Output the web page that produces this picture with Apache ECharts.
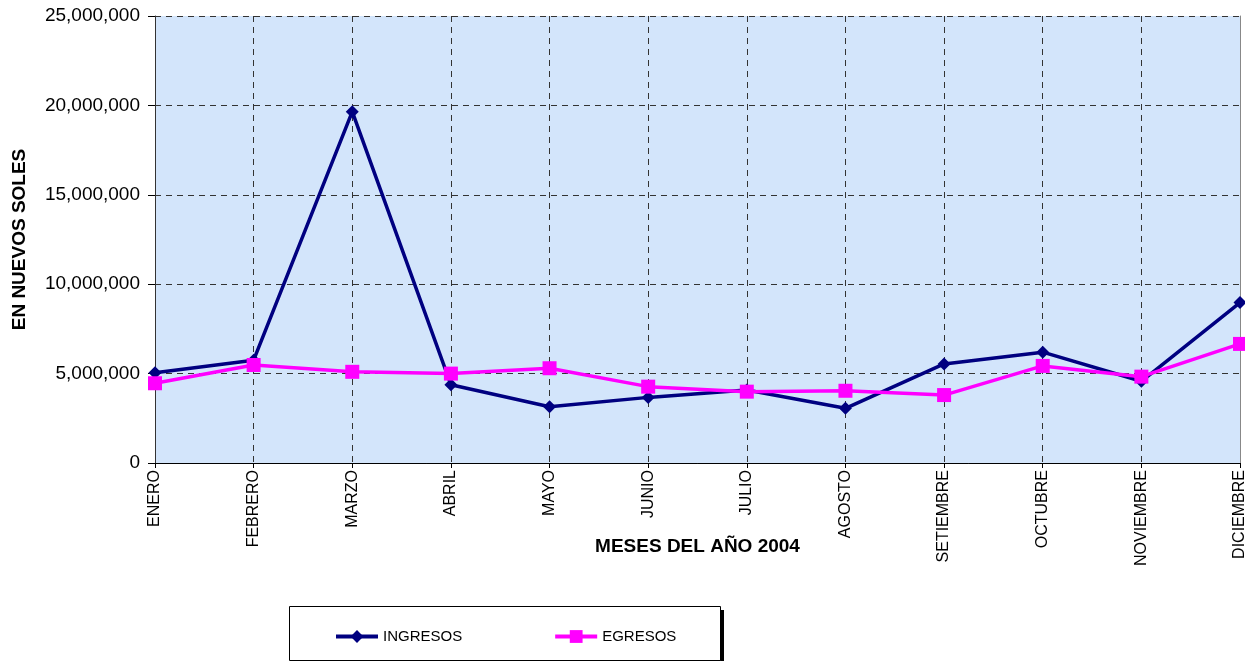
<!DOCTYPE html>
<html>
<head>
<meta charset="utf-8">
<script src="https://cdn.jsdelivr.net/npm/echarts@6/dist/echarts.min.js"></script>
<style>
html,body{margin:0;padding:0;background:#fff;}
#c{width:1245px;height:661px;}
</style>
</head>
<body>
<div id="c"></div>
<script>
var categories = ['ENERO','FEBRERO','MARZO','ABRIL','MAYO','JUNIO','JULIO','AGOSTO','SETIEMBRE','OCTUBRE','NOVIEMBRE','DICIEMBRE'];
var ingresos = [5050000, 5750000, 19650000, 4380000, 3150000, 3670000, 4080000, 3060000, 5540000, 6200000, 4570000, 8970000];
var egresos  = [4460000, 5480000, 5100000, 5000000, 5300000, 4270000, 3990000, 4040000, 3800000, 5430000, 4830000, 6660000];
var yMin = 0, yMax = 25000000, yStep = 5000000;

var FONT = '"Liberation Sans", Arial, sans-serif';
var chart = echarts.init(document.getElementById('c'));
chart.setOption({
  backgroundColor: '#ffffff',
  animation: false,
  grid: {left: 155, right: 5, top: 16, bottom: 198, show: true, backgroundColor: '#D3E5FB', borderWidth: 0,
         containLabel: false, outerBoundsMode: 'none'},
  graphic: [{
    type: 'rect', left: 293, top: 610, z: 0,
    shape: {width: 431, height: 54},
    style: {fill: '#000000'}
  }, {
    type: 'rect', left: 289, top: 606, z: 1,
    shape: {width: 431, height: 54},
    style: {fill: '#ffffff', stroke: '#000000', lineWidth: 1}
  }],
  legend: {
    left: 329, top: 624, itemWidth: 42, itemHeight: 16, itemGap: 91, z: 10,
    textStyle: {fontFamily: FONT, fontSize: 15, color: '#000'},
    lineStyle: {width: 4},
    data: ['INGRESOS', 'EGRESOS']
  },
  xAxis: {
    type: 'category', data: categories, boundaryGap: false,
    name: 'MESES DEL AÑO 2004', nameLocation: 'middle', nameGap: 74, nameMoveOverlap: false,
    nameTextStyle: {fontFamily: FONT, fontWeight: 'bold', fontSize: 19, color: '#000'},
    axisLine: {show: true, lineStyle: {color: '#000', width: 1}},
    axisTick: {show: true, length: 5, lineStyle: {color: '#000'}},
    axisLabel: {rotate: 90, fontFamily: FONT, fontSize: 16, color: '#000', margin: 7, interval: 0},
    splitLine: {show: true, lineStyle: {color: '#333', type: [6, 5], width: 1}}
  },
  yAxis: [{
    type: 'value', min: yMin, max: yMax, interval: yStep,
    name: 'EN NUEVOS SOLES', nameLocation: 'middle', nameGap: 126, nameRotate: 90, nameMoveOverlap: false,
    nameTextStyle: {fontFamily: FONT, fontWeight: 'bold', fontSize: 19, color: '#000'},
    axisLine: {show: true, lineStyle: {color: '#333', width: 1}},
    axisTick: {show: true, length: 7, lineStyle: {color: '#000'}},
    axisLabel: {fontFamily: FONT, fontSize: 19, color: '#000', margin: 15,
      formatter: function (v) { return v.toString().replace(/\B(?=(\d{3})+(?!\d))/g, ','); }},
    splitLine: {show: true, lineStyle: {color: '#333', type: [6, 5], width: 1}}
  }, {
    type: 'value', min: yMin, max: yMax, interval: yStep, position: 'right',
    axisLine: {show: true, lineStyle: {color: '#888', width: 1}},
    axisTick: {show: false}, axisLabel: {show: false}, splitLine: {show: false}
  }],
  series: [{
    name: 'INGRESOS', type: 'line', data: ingresos,
    symbol: 'diamond', symbolSize: 13,
    lineStyle: {color: '#000080', width: 3.5},
    itemStyle: {color: '#000080'}
  }, {
    name: 'EGRESOS', type: 'line', data: egresos,
    symbol: 'rect', symbolSize: 14,
    lineStyle: {color: '#FF00FF', width: 3.5},
    itemStyle: {color: '#FF00FF'}
  }]
});
</script>
</body>
</html>
